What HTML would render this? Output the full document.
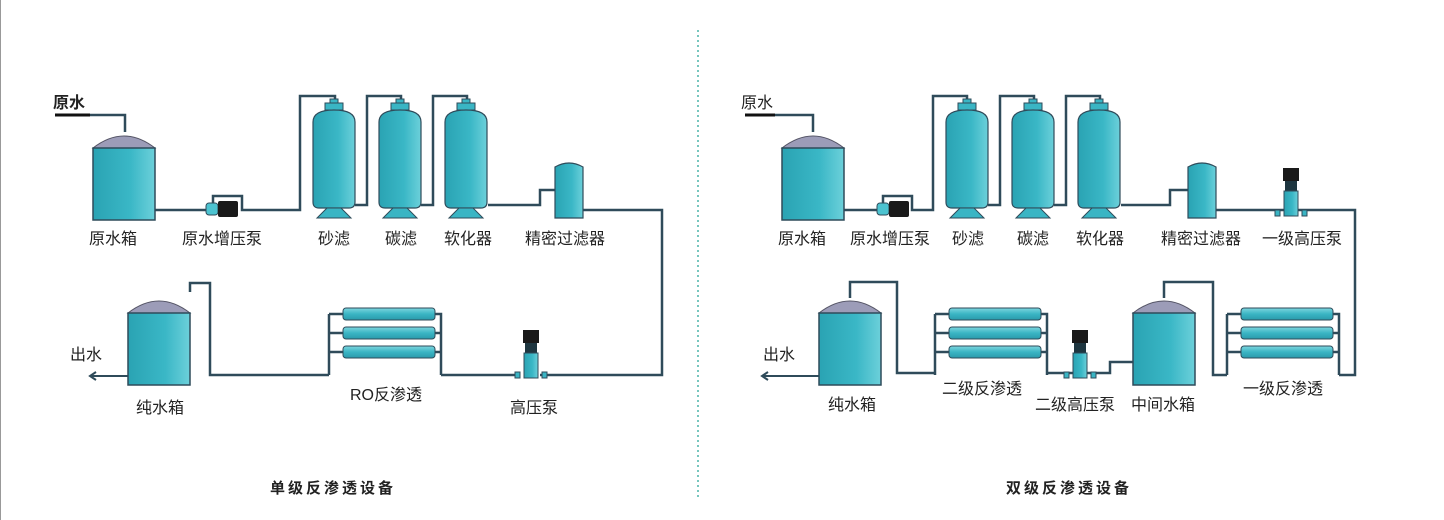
<!DOCTYPE html>
<html><head><meta charset="utf-8"><style>
html,body{margin:0;padding:0;background:#fff;}
svg{display:block;}
text{font-family:"Liberation Sans","Noto Sans CJK SC",sans-serif;fill:#222;}
</style></head><body>
<svg width="1444" height="520" viewBox="0 0 1444 520" xmlns="http://www.w3.org/2000/svg">
<defs>
<linearGradient id="tg" x1="0" x2="1" y1="0" y2="0">
<stop offset="0" stop-color="#2aa3b3"/><stop offset="0.6" stop-color="#3ab7c6"/><stop offset="1" stop-color="#6cd0da"/></linearGradient>
<linearGradient id="rg" x1="0" x2="0" y1="0" y2="1">
<stop offset="0" stop-color="#7ed6df"/><stop offset="0.5" stop-color="#3ab5c4"/><stop offset="1" stop-color="#2a9aab"/></linearGradient>
<g id="tank">
<path d="M0,18 Q31,-6 62,18 Z" fill="#9c9cb8" stroke="#556" stroke-width="1"/>
<rect x="0" y="18" width="62" height="72" fill="url(#tg)" stroke="#2f4b5a" stroke-width="1.5"/>
</g>
<g id="filt">
<rect x="17" y="-3" width="8" height="5" fill="#3ab5c4" stroke="#2f4b5a"/>
<rect x="12" y="1" width="18" height="7" fill="#3ab5c4" stroke="#2f4b5a"/>
<path d="M0,20 Q0,8 21,8 Q42,8 42,20 L42,100 Q42,106 36,106 L6,106 Q0,106 0,100 Z" fill="url(#tg)" stroke="#2f4b5a" stroke-width="1.2"/>
<path d="M14,106 L4,116 L38,116 L28,106 Z" fill="#3ab5c4" stroke="#2f4b5a"/>
</g>
<g id="vpump">
<rect x="2" y="0" width="16" height="13" fill="#1a1a1a"/>
<rect x="4" y="13" width="12" height="10" fill="#1e3640"/>
<rect x="3" y="23" width="14" height="25" fill="url(#tg)" stroke="#2f4b5a"/>
<rect x="-6" y="42" width="5" height="6" fill="#3ab5c4" stroke="#2f4b5a"/>
<rect x="21" y="42" width="5" height="6" fill="#3ab5c4" stroke="#2f4b5a"/>
</g>
<g id="ro">
<path d="M-6,6 V67 M-6,6 H8 M-6,25 H8 M-6,44 H8 M100,6 H106 V67 M100,25 H106 M100,44 H106" fill="none" stroke="#2f4b5a" stroke-width="2.5"/>
<rect x="8" y="0" width="92" height="12" rx="3" fill="url(#rg)" stroke="#2f4b5a"/>
<rect x="8" y="19" width="92" height="12" rx="3" fill="url(#rg)" stroke="#2f4b5a"/>
<rect x="8" y="38" width="92" height="12" rx="3" fill="url(#rg)" stroke="#2f4b5a"/>
</g>
<g id="hpump">
<rect x="2" y="2" width="12" height="12" rx="3" fill="#4cc3d0" stroke="#2f4b5a"/>
<rect x="14" y="0" width="20" height="16" rx="2" fill="#1a1a1a"/>
</g>
<g id="prec">
<path d="M0,6 Q14,-2 28,6 L28,57 L0,57 Z" fill="url(#tg)" stroke="#2f4b5a" stroke-width="1.2"/>
</g>
</defs>
<line x1="0.5" y1="0" x2="0.5" y2="520" stroke="#999"/>
<line x1="698" y1="30" x2="698" y2="497" stroke="#4bb3a8" stroke-width="1.5" stroke-dasharray="2,3"/>

<g fill="none" stroke="#2f4b5a" stroke-width="2.5">
<!-- left -->
<path d="M55,115 H125 V132"/>
<path d="M153,210 H210 M213,210 V196 H242 V210 H300 V96 H335 V102"/>
<path d="M355,205 H367 V96 H401 V102"/>
<path d="M421,205 H433 V96 H467 V102"/>
<path d="M488,205 H540 V190 H555"/>
<path d="M583,210 H662 V375 H540"/>
<path d="M520,375 H441"/>
<path d="M329,375 H210 V283 H190 V292"/>
<!-- right -->
<path d="M745,115 H813 V132"/>
<path d="M844,210 H880 M883,210 V196 H912 V210 H933 V96 H967 V102"/>
<path d="M988,205 H1000 V96 H1034 V102"/>
<path d="M1054,205 H1066 V96 H1100 V102"/>
<path d="M1121,205 H1170 V190 H1188"/>
<path d="M1216,210 H1355 V375 H1339"/>
<path d="M1227,375 H1213 V282 H1164 V298"/>
<path d="M1133,362 H1110 V373 H1047"/>
<path d="M850,298 V282 H897 V373 H935"/>
</g>
<line x1="55" y1="115" x2="90" y2="115" stroke="#111" stroke-width="3"/>
<line x1="745" y1="115" x2="775" y2="115" stroke="#111" stroke-width="3"/>
<g stroke="#2f4b5a" stroke-width="2" fill="none">
<path d="M128,376 H92 M96,372 L90,376 L96,380"/>
<path d="M820,376 H764 M768,372 L762,376 L768,380"/>
</g>

<use href="#tank" x="93" y="130"/>
<use href="#hpump" x="204" y="201"/>
<use href="#filt" x="313" y="102"/>
<use href="#filt" x="379" y="102"/>
<use href="#filt" x="445" y="102"/>
<use href="#prec" x="555" y="161"/>
<use href="#vpump" x="521" y="330"/>
<use href="#ro" x="335" y="308"/>
<use href="#tank" x="128" y="295"/>

<use href="#tank" x="782" y="130"/>
<use href="#hpump" x="875" y="201"/>
<use href="#filt" x="946" y="102"/>
<use href="#filt" x="1012" y="102"/>
<use href="#filt" x="1078" y="102"/>
<use href="#prec" x="1188" y="161"/>
<use href="#vpump" x="1281" y="168"/>
<use href="#vpump" x="1070" y="330"/>
<use href="#ro" x="1233" y="308"/>
<use href="#ro" x="941" y="308"/>
<use href="#tank" x="1133" y="295"/>
<use href="#tank" x="819" y="295"/>

<g font-size="16">
<text x="53" y="108" font-weight="bold">原水</text>
<text x="113" y="244" text-anchor="middle">原水箱</text>
<text x="222" y="244" text-anchor="middle">原水增压泵</text>
<text x="334" y="244" text-anchor="middle">砂滤</text>
<text x="401" y="244" text-anchor="middle">碳滤</text>
<text x="468" y="244" text-anchor="middle">软化器</text>
<text x="565" y="244" text-anchor="middle">精密过滤器</text>
<text x="70" y="360">出水</text>
<text x="160" y="413" text-anchor="middle">纯水箱</text>
<text x="386" y="400" text-anchor="middle">RO反渗透</text>
<text x="534" y="413" text-anchor="middle">高压泵</text>

<text x="741" y="108">原水</text>
<text x="802" y="244" text-anchor="middle">原水箱</text>
<text x="890" y="244" text-anchor="middle">原水增压泵</text>
<text x="968" y="244" text-anchor="middle">砂滤</text>
<text x="1033" y="244" text-anchor="middle">碳滤</text>
<text x="1100" y="244" text-anchor="middle">软化器</text>
<text x="1201" y="244" text-anchor="middle">精密过滤器</text>
<text x="1302" y="244" text-anchor="middle">一级高压泵</text>
<text x="763" y="360">出水</text>
<text x="852" y="410" text-anchor="middle">纯水箱</text>
<text x="982" y="394" text-anchor="middle">二级反渗透</text>
<text x="1075" y="410" text-anchor="middle">二级高压泵</text>
<text x="1163" y="410" text-anchor="middle">中间水箱</text>
<text x="1283" y="394" text-anchor="middle">一级反渗透</text>
</g>
<g font-size="15" font-weight="bold" letter-spacing="3">
<text x="333" y="493" text-anchor="middle">单级反渗透设备</text>
<text x="1069" y="493" text-anchor="middle">双级反渗透设备</text>
</g>
</svg>
</body></html>
